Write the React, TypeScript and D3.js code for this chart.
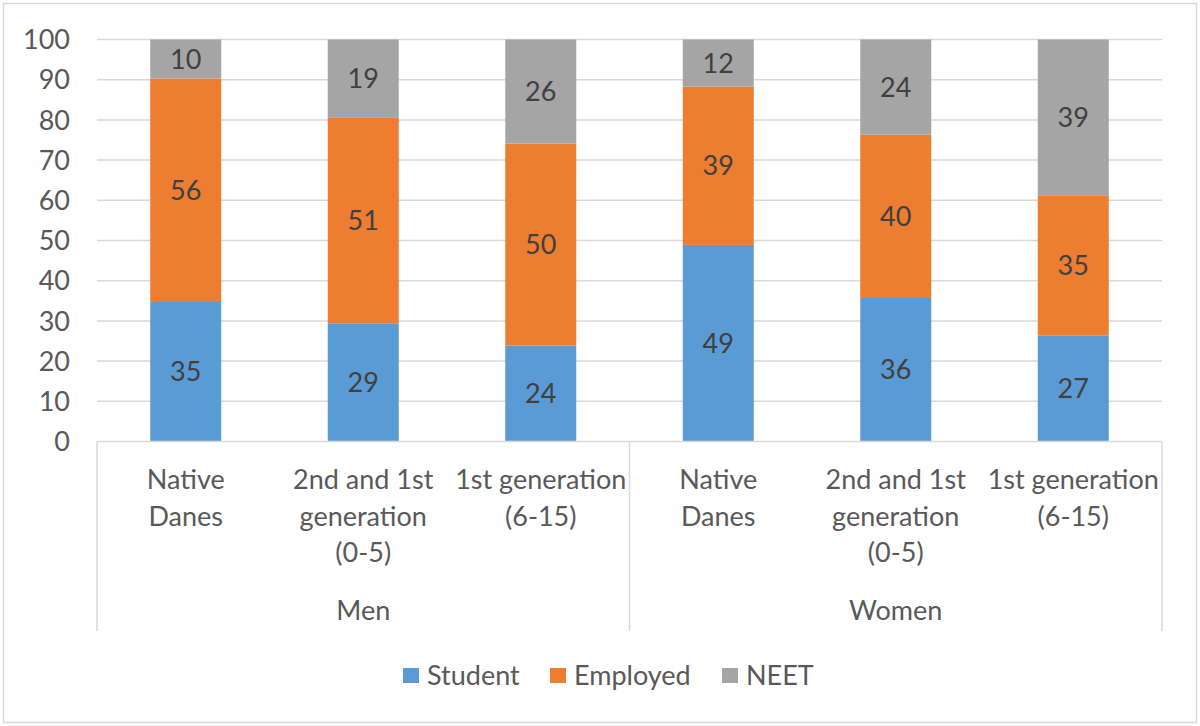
import React from "react";
import * as d3 from "d3";

const groups = ["Men", "Women"];
const categories = [
  ["Native", "Danes"],
  ["2nd and 1st", "generation", "(0-5)"],
  ["1st generation", "(6-15)"],
];
const seriesNames = ["Student", "Employed", "NEET"];
const colors = ["#5b9bd5", "#ed7d31", "#a5a5a5"];
const student = [34.7, 29.4, 23.9, 48.9, 35.7, 26.4];
const employed = [55.6, 51.1, 50.2, 39.4, 40.6, 34.7];
const neet = [9.7, 19.5, 25.9, 11.7, 23.7, 38.9];
const labelStudent = [35, 29, 24, 49, 36, 27];
const labelEmployed = [56, 51, 50, 39, 40, 35];
const labelNeet = [10, 19, 26, 12, 24, 39];
const yTicks = [0, 10, 20, 30, 40, 50, 60, 70, 80, 90, 100];

const W = 1200;
const H = 726;
const FONT = "Lato, 'Open Sans', sans-serif";
const TXT = "#595959";

export default function App() {
  const left = 97;
  const right = 1162;
  const top = 39.5;
  const bottom = 441.5;
  const y = d3.scaleLinear().domain([0, 100]).range([bottom, top]);
  const keys = groups.flatMap((g) => categories.map((c, i) => `${g}-${i}`));
  const x = d3.scaleBand<string>().domain(keys).range([left, right]).paddingInner(0.6).paddingOuter(0.3);
  const labels = [labelStudent, labelEmployed, labelNeet];
  const stackData = keys.map((k, i) => ({ key: k, s0: student[i], s1: employed[i], s2: neet[i] }));
  const stack = d3.stack<any>().keys(["s0", "s1", "s2"])(stackData);
  const groupX = d3.scaleBand<string>().domain(groups).range([left, right]);
  const fs = 27;
  const lineH = 36.7;

  return (
    <div style={{ position: "absolute", left: 0, top: 0 }}>
      <svg width={W} height={H} style={{ display: "block", background: "#fff" }}>
        <rect x={3.5} y={3.5} width={W - 7} height={H - 7} fill="#fff" stroke="#d9d9d9" strokeWidth={1.5} />
        {yTicks.map((t) => (
          <g key={t}>
            {t > 0 && <line x1={left} x2={right} y1={y(t)} y2={y(t)} stroke="#d9d9d9" strokeWidth={1.5} />}
            <text x={70} y={y(t)} dy="0.36em" textAnchor="end" fontFamily={FONT} fontSize={fs} fill={TXT}>
              {t}
            </text>
          </g>
        ))}
        {stack.map((layer, si) =>
          layer.map((d, i) => {
            const bx = x(keys[i])!;
            const y0 = y(d[0]);
            const y1 = y(d[1]);
            return (
              <g key={`${si}-${i}`}>
                <rect x={bx} y={y1} width={x.bandwidth()} height={y0 - y1} fill={colors[si]} />
                <text
                  x={bx + x.bandwidth() / 2}
                  y={(y0 + y1) / 2}
                  dy="0.36em"
                  textAnchor="middle"
                  fontFamily={FONT}
                  fontSize={fs}
                  fill="#404040"
                >
                  {labels[si][i]}
                </text>
              </g>
            );
          })
        )}
        <line x1={left} x2={right} y1={bottom} y2={bottom} stroke="#d9d9d9" strokeWidth={1.5} />
        {[left, groupX("Women")!, right].map((vx, i) => (
          <line key={i} x1={vx} x2={vx} y1={bottom} y2={631} stroke="#d9d9d9" strokeWidth={1.5} />
        ))}
        {keys.map((k, i) => {
          const lines = categories[i % 3];
          const cx = x(k)! + x.bandwidth() / 2;
          return (
            <text key={k} textAnchor="middle" fontFamily={FONT} fontSize={fs} fill={TXT}>
              {lines.map((l, j) => (
                <tspan key={j} x={cx} y={489 + j * lineH}>
                  {l}
                </tspan>
              ))}
            </text>
          );
        })}
        {groups.map((g) => (
          <text key={g} x={groupX(g)! + groupX.bandwidth() / 2} y={620} textAnchor="middle" fontFamily={FONT} fontSize={fs} fill={TXT}>
            {g}
          </text>
        ))}
        {seriesNames.map((s, i) => {
          const lx = [403, 550, 722][i];
          return (
            <g key={s}>
              <rect x={lx} y={668} width={16} height={15} fill={colors[i]} />
              <text x={lx + 24} y={675.5} dy="0.36em" fontFamily={FONT} fontSize={fs} fill={TXT}>
                {s}
              </text>
            </g>
          );
        })}
      </svg>
    </div>
  );
}
